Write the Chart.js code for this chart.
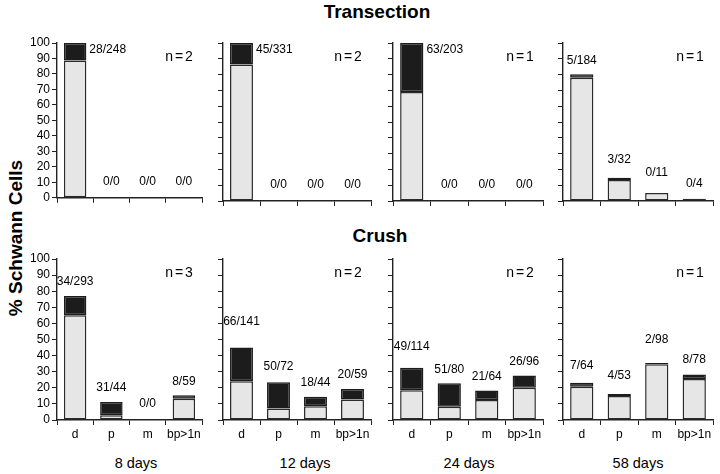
<!DOCTYPE html>
<html>
<head>
<meta charset="utf-8">
<script src="https://cdn.jsdelivr.net/npm/chart.js@4.4.1/dist/chart.umd.min.js"></script>
<style>
  body { margin: 0; background: #fff; }
  #wrap { position: relative; width: 720px; height: 474px; font-family: "Liberation Sans", Arial, sans-serif; color: #000; }
  #wrap canvas { position: absolute; }
  .t { position: absolute; white-space: nowrap; transform: translate(-50%, -50%); }
  .h { font-weight: bold; font-size: 19px; }
  .d { font-size: 14.5px; }
</style>
</head>
<body>
<div id="wrap">
  <div class="t h" style="left:377px;top:12px">Transection</div>
  <div class="t h" style="left:380px;top:236px">Crush</div>
  <div class="t h" style="left:16px;top:238px;transform:translate(-50%,-50%) rotate(-90deg)">% Schwann Cells</div>
</div>
<script>
// --- data ---
var categories = ["d", "p", "m", "bp>1n"];
var days = ["8 days", "12 days", "24 days", "58 days"];

// Transection (top row), % of Schwann cells; light = lower part, dark = upper part
var transLight = [[88.7, 0, 0, 0], [86.4, 0, 0, 0], [69, 0, 0, 0], [78, 13.3, 5, 1.5]];
var transDark = [[11.3, 0, 0, 0], [13.6, 0, 0, 0], [31, 0, 0, 0], [2.2, 1.4, 0, 0]];
var transCounts = [
  ["28/248", "0/0", "0/0", "0/0"],
  ["45/331", "0/0", "0/0", "0/0"],
  ["63/203", "0/0", "0/0", "0/0"],
  ["5/184", "3/32", "0/11", "0/4"],
];
var transN = ["n=2", "n=2", "n=1", "n=1"];

// Crush (bottom row)
var crushLight = [[65, 3, 0, 13.2], [24, 7.2, 8.6, 12.8], [18.5, 8.3, 12.4, 20], [20.7, 14.9, 34.6, 25.5]];
var crushDark = [[12, 8.2, 0, 2.1], [21, 16.2, 5.9, 6.5], [14, 14.5, 6, 7.7], [2.5, 1.2, 0.8, 2.7]];
var crushCounts = [
  ["34/293", "31/44", "0/0", "8/59"],
  ["66/141", "50/72", "18/44", "20/59"],
  ["49/114", "51/80", "21/64", "26/96"],
  ["7/64", "4/53", "2/98", "8/78"],
];
var crushN = ["n=3", "n=2", "n=2", "n=1"];

// --- layout (pixels) ---
var colLeft = [57, 223, 393, 563];
var colRight = [202, 371, 543, 713];
var rowTop = [43, 259];
var rowBase = [201, 420];
var dayCenter = [136, 305, 469, 638];
// extra lift of a few hand-placed count labels
var transLift = [[0, 2, 2, 2], [0, 2, 2, 2], [0, 2, 2, 2], [0, 4, 6, 1]];
var crushLift = [[0, 0, 2, 0], [12, 2, 0, 0], [7, 0, 0, 0], [3, 4, 9, 1]];

var FONT = "'Liberation Sans', Arial, sans-serif";
Chart.defaults.font.family = FONT;
Chart.defaults.color = "#000";

var wrap = document.getElementById("wrap");

days.forEach(function (d, i) {
  var el = document.createElement("div");
  el.className = "t d";
  el.style.left = dayCenter[i] + "px";
  el.style.top = "463px";
  el.textContent = d;
  wrap.appendChild(el);
});

function labelPlugin(light, dark, counts, lift, nText) {
  return {
    id: "countLabels",
    afterDatasetsDraw: function (chart) {
      var ctx = chart.ctx;
      var y = chart.scales.y;
      var area = chart.chartArea;
      var meta = chart.getDatasetMeta(1);
      ctx.save();
      ctx.fillStyle = "#000";
      ctx.textBaseline = "middle";
      ctx.font = "12px " + FONT;
      counts.forEach(function (txt, i) {
        var total = light[i] + dark[i];
        var bar = meta.data[i];
        var top = y.getPixelForValue(total);
        if (total >= 99) {
          ctx.textAlign = "left";
          ctx.fillText(txt, bar.x + bar.width / 2 + 3, top + 7);
        } else {
          ctx.textAlign = "center";
          ctx.fillText(txt, bar.x, top - 14 - lift[i]);
        }
      });
      ctx.font = "14px " + FONT;
      ctx.letterSpacing = "2px";
      ctx.textAlign = "center";
      ctx.fillText(nText, area.right - 22, area.top + 14);
      ctx.restore();
    },
  };
}

function makePanel(row, col, light, dark, counts, lift, nText) {
  var axisH = row === 0 ? 6 : 24;
  var cv = document.createElement("canvas");
  var w = colRight[col] - colLeft[col] + 44;
  var h = rowBase[row] - rowTop[row] + 10 + axisH;
  cv.width = w;
  cv.height = h;
  cv.style.left = (colLeft[col] - 40) + "px";
  cv.style.top = (rowTop[row] - 10) + "px";
  wrap.appendChild(cv);

  new Chart(cv.getContext("2d"), {
    type: "bar",
    data: {
      labels: categories,
      datasets: [
        {
          data: light,
          backgroundColor: "#e6e6e6",
          borderColor: "#2a2a2a",
          borderWidth: 1.5,
          borderSkipped: false,
        },
        {
          data: dark,
          backgroundColor: "#1c1c1c",
          borderColor: "#1c1c1c",
          borderWidth: 1.5,
          borderSkipped: false,
        },
      ],
    },
    options: {
      responsive: false,
      animation: false,
      layout: { padding: { top: 10, right: 4, left: 0, bottom: 0 } },
      datasets: { bar: { categoryPercentage: 1, barPercentage: 0.62 } },
      plugins: { legend: { display: false }, tooltip: { enabled: false } },
      scales: {
        x: {
          stacked: true,
          afterFit: function (s) { s.height = axisH; },
          grid: { drawOnChartArea: false, tickLength: 5, color: "#222" },
          border: { color: "#222", width: 1.4 },
          ticks: { display: row === 1, font: { size: 12 }, padding: 2, maxRotation: 0, autoSkip: false },
        },
        y: {
          stacked: true,
          min: 0,
          max: 100,
          afterFit: function (s) { s.width = 40; },
          grid: { drawOnChartArea: false, tickLength: 5, color: "#222" },
          border: { color: "#222", width: 1.4 },
          ticks: { display: col === 0, stepSize: 10, autoSkip: false, font: { size: 12 }, padding: 2 },
        },
      },
    },
    plugins: [labelPlugin(light, dark, counts, lift, nText)],
  });
}

for (var c = 0; c < 4; c++) {
  makePanel(0, c, transLight[c], transDark[c], transCounts[c], transLift[c], transN[c]);
  makePanel(1, c, crushLight[c], crushDark[c], crushCounts[c], crushLift[c], crushN[c]);
}
</script>
</body>
</html>
